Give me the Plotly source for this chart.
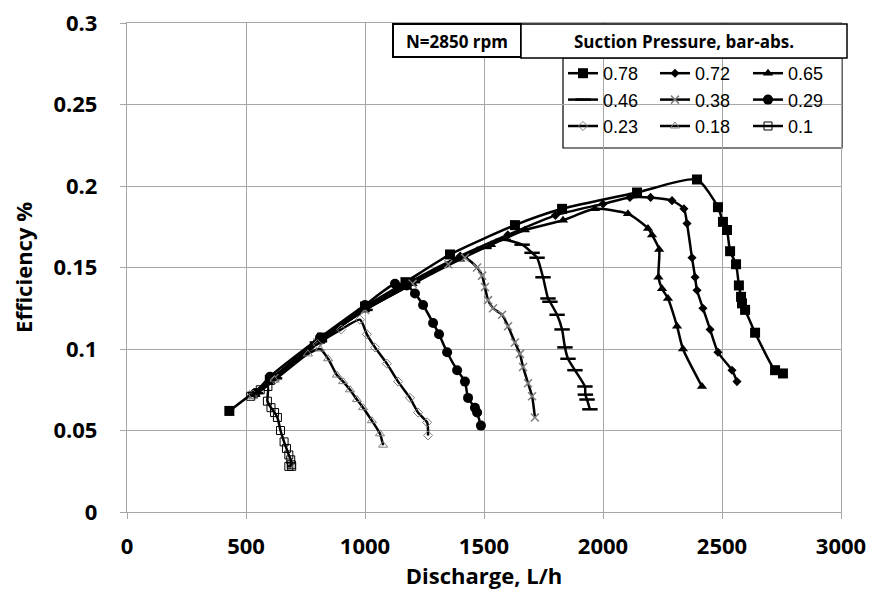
import plotly.graph_objects as go

# ---------------- data ----------------
x_ticks = [0, 500, 1000, 1500, 2000, 2500, 3000]
x_tick_labels = ["0", "500", "1000", "1500", "2000", "2500", "3000"]
y_ticks = [0, 0.05, 0.1, 0.15, 0.2, 0.25, 0.3]
y_tick_labels = ["0", "0.05", "0.1", "0.15", "0.2", "0.25", "0.3"]

series_names = ["0.78", "0.72", "0.65", "0.46", "0.38", "0.29", "0.23", "0.18", "0.1"]

q_078 = [430, 600, 820, 1000, 1170, 1357, 1630, 1828, 2143, 2395, 2483, 2504, 2521, 2534, 2559, 2571, 2580, 2584, 2597, 2639, 2723, 2756]
e_078 = [0.062, 0.081, 0.107, 0.126, 0.141, 0.158, 0.176, 0.186, 0.196, 0.204, 0.187, 0.178, 0.173, 0.160, 0.152, 0.139, 0.132, 0.128, 0.124, 0.110, 0.087, 0.085]

q_072 = [540, 620, 800, 1000, 1200, 1400, 1600, 1800, 2000, 2113, 2200, 2290, 2340, 2353, 2374, 2387, 2395, 2420, 2450, 2483, 2542, 2563]
e_072 = [0.073, 0.083, 0.105, 0.125, 0.142, 0.157, 0.170, 0.182, 0.189, 0.193, 0.193, 0.191, 0.186, 0.177, 0.156, 0.144, 0.136, 0.125, 0.112, 0.098, 0.087, 0.080]

q_065 = [540, 620, 800, 1000, 1200, 1400, 1530, 1672, 1832, 1966, 2105, 2189, 2206, 2236, 2233, 2248, 2273, 2311, 2336, 2416]
e_065 = [0.072, 0.082, 0.104, 0.124, 0.140, 0.155, 0.164, 0.173, 0.179, 0.186, 0.183, 0.174, 0.170, 0.161, 0.144, 0.137, 0.131, 0.114, 0.100, 0.077]

q_046 = [540, 620, 800, 1000, 1200, 1400, 1500, 1580, 1660, 1702, 1723, 1748, 1769, 1777, 1807, 1828, 1840, 1853, 1882, 1924, 1926, 1933, 1945]
e_046 = [0.073, 0.082, 0.104, 0.124, 0.141, 0.156, 0.162, 0.167, 0.164, 0.159, 0.156, 0.144, 0.131, 0.129, 0.121, 0.112, 0.101, 0.094, 0.087, 0.077, 0.072, 0.069, 0.063]

q_038 = [530, 620, 800, 1000, 1200, 1350, 1420, 1471, 1492, 1504, 1517, 1538, 1576, 1601, 1630, 1651, 1664, 1685, 1702, 1714]
e_038 = [0.072, 0.082, 0.104, 0.124, 0.140, 0.152, 0.156, 0.150, 0.145, 0.138, 0.130, 0.125, 0.121, 0.114, 0.104, 0.097, 0.089, 0.079, 0.071, 0.058]

q_029 = [540, 601, 811, 1000, 1126, 1176, 1210, 1244, 1286, 1311, 1345, 1387, 1420, 1433, 1462, 1471, 1487]
e_029 = [0.073, 0.083, 0.107, 0.127, 0.140, 0.139, 0.134, 0.127, 0.116, 0.109, 0.098, 0.087, 0.080, 0.070, 0.064, 0.061, 0.053]

q_023 = [530, 620, 800, 900, 979, 1008, 1042, 1092, 1139, 1189, 1223, 1261, 1265]
e_023 = [0.072, 0.081, 0.103, 0.112, 0.118, 0.109, 0.101, 0.091, 0.080, 0.070, 0.061, 0.055, 0.047]

q_018 = [530, 620, 760, 811, 845, 882, 908, 937, 966, 992, 1029, 1063, 1076]
e_018 = [0.071, 0.081, 0.097, 0.100, 0.094, 0.084, 0.080, 0.075, 0.069, 0.064, 0.056, 0.048, 0.041]

q_010 = [520, 560, 592, 590, 605, 620, 632, 645, 660, 670, 680, 688, 690, 680, 692]
e_010 = [0.071, 0.075, 0.077, 0.068, 0.064, 0.061, 0.058, 0.050, 0.043, 0.039, 0.035, 0.032, 0.029, 0.028, 0.028]

q_all = [q_078, q_072, q_065, q_046, q_038, q_029, q_023, q_018, q_010]
e_all = [e_078, e_072, e_065, e_046, e_038, e_029, e_023, e_018, e_010]

# ---------------- styles ----------------
GRAY = "#7f7f7f"
styles = [
    dict(symbol="square", size=10, color="black", lw=0, lc="black", legend="legend"),
    dict(symbol="diamond", size=7, color="black", lw=0, lc="black", legend="legend2"),
    dict(symbol="triangle-up", size=9, color="black", lw=0, lc="black", legend="legend3"),
    dict(symbol="line-ew", size=11, color="black", lw=2.5, lc="black", legend="legend"),
    dict(symbol="x-thin", size=8, color=GRAY, lw=1.5, lc=GRAY, legend="legend2"),
    dict(symbol="circle", size=10, color="black", lw=0, lc="black", legend="legend3"),
    dict(symbol="diamond-open", size=7, color=GRAY, lw=1, lc=GRAY, legend="legend"),
    dict(symbol="triangle-up-open", size=8, color=GRAY, lw=1, lc=GRAY, legend="legend2"),
    dict(symbol="square-open", size=8, color="black", lw=1, lc="black", legend="legend3"),
]

fig = go.Figure()
for name, q, e, st in zip(series_names, q_all, e_all, styles):
    fig.add_trace(go.Scatter(
        x=q, y=e, name=name, mode="lines+markers",
        line=dict(color="black", width=2.5, shape="spline", smoothing=0.6),
        marker=dict(symbol=st["symbol"], size=st["size"], color=st["color"],
                    line=dict(width=st["lw"], color=st["lc"])),
        legend=st["legend"],
    ))

# page has an 8px body margin; figure coordinates = page coordinates - 8
OFF = 8
W, H = 874 - OFF, 598 - OFF
L, T = 127 - OFF, 23 - OFF
R = W - (841 - OFF)
B = H - (512 - OFF)
pw, ph = W - L - R, H - T - B


def px_x(p):
    return (p - OFF - L) / pw


def px_y(p):
    return (H - B - (p - OFF)) / ph


TICKFONT = dict(family="Open Sans", size=22, color="black", weight="bold")
TITLEFONT = dict(family="Open Sans", size=22, color="black", weight="bold")
GRID = "#a6a6a6"

fig.update_layout(
    width=W, height=H,
    margin=dict(l=L, r=R, t=T, b=B, autoexpand=False),
    paper_bgcolor="white", plot_bgcolor="white",
    showlegend=True,
    xaxis=dict(range=[0, 3000], tickvals=x_ticks, ticktext=x_tick_labels,
               showgrid=True, gridcolor=GRID, gridwidth=1.3,
               showline=True, linecolor=GRID, linewidth=1.3, mirror=True,
               ticks="outside", ticklen=6, tickcolor=GRID, tickwidth=1.3,
               tickfont=TICKFONT, zeroline=False, ticklabelstandoff=8,
               ticklabeloverflow="allow", automargin=False,
               title=dict(text="Discharge, L/h", font=TITLEFONT, standoff=10)),
    yaxis=dict(range=[0, 0.3], tickvals=y_ticks, ticktext=y_tick_labels,
               showgrid=True, gridcolor=GRID, gridwidth=1.3,
               showline=True, linecolor=GRID, linewidth=1.3, mirror=True,
               ticks="outside", ticklen=6, tickcolor=GRID, tickwidth=1.3,
               tickfont=TICKFONT, zeroline=False, ticklabelstandoff=18,
               ticklabeloverflow="allow", automargin=False,
               title=dict(text="Efficiency %", font=TITLEFONT, standoff=18)),
)

LEGFONT = dict(family="Liberation Sans", size=18, color="black")
for key, px_left in [("legend", 563), ("legend2", 655), ("legend3", 748)]:
    fig.update_layout({key: dict(x=px_x(px_left), y=px_y(55), xanchor="left", yanchor="top",
                                 font=LEGFONT, bgcolor="rgba(0,0,0,0)", borderwidth=0,
                                 tracegroupgap=0, itemwidth=30)})

# legend frame and header boxes
fig.add_shape(type="rect", xref="paper", yref="paper",
              x0=px_x(563), x1=px_x(842), y0=px_y(148), y1=px_y(58),
              line=dict(color="black", width=1.2), fillcolor="white", layer="below")
fig.add_shape(type="rect", xref="paper", yref="paper",
              x0=px_x(393), x1=px_x(521), y0=px_y(57), y1=px_y(24),
              line=dict(color="black", width=2), fillcolor="white")
fig.add_shape(type="rect", xref="paper", yref="paper",
              x0=px_x(521), x1=px_x(847), y0=px_y(58), y1=px_y(24),
              line=dict(color="black", width=1.5), fillcolor="white")
fig.add_annotation(text="N=2850 rpm", xref="paper", yref="paper",
                   x=px_x(457), y=px_y(41), showarrow=False,
                   xanchor="center", yanchor="middle",
                   font=dict(family="Open Sans", size=17, color="black", weight="bold"))
fig.add_annotation(text="Suction Pressure, bar-abs.", xref="paper", yref="paper",
                   x=px_x(684), y=px_y(41), showarrow=False,
                   xanchor="center", yanchor="middle",
                   font=dict(family="Open Sans", size=17, color="black", weight="bold"))

fig.write_html("out.html")
